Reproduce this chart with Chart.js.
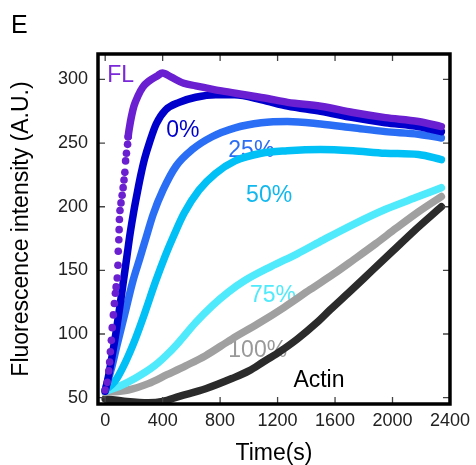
<!DOCTYPE html>
<html>
<head>
<meta charset="utf-8">
<script src="https://cdn.jsdelivr.net/npm/chart.js@4.4.1/dist/chart.umd.min.js"></script>
<style>
  html, body { margin: 0; padding: 0; background: #fff; }
</style>
</head>
<body>
<canvas id="MyChart" width="476" height="465"></canvas>
<script>
// values: time (s) / fluorescence (A.U.)
const fl_t = [0, 15, 25, 31, 36, 43, 49, 57, 64, 71, 76, 84, 89, 91, 95, 97, 99, 103, 110, 118, 125, 131, 137, 142, 148, 156, 160, 170, 183, 200, 228, 262, 308, 365, 398, 457, 547, 630, 810, 970, 1130, 1270, 1500, 1725, 1950, 2180, 2340]
const fl_y = [56, 62, 71, 78, 86, 95, 105, 115, 124, 132, 137, 144, 154, 165, 174, 182, 190, 197, 203, 209, 215, 221, 227, 236, 242, 249, 255, 263, 271, 279, 287, 294, 299, 303, 305, 302, 297, 295, 291, 288, 285, 282, 279, 274, 270, 267, 263]

const p0_t = [0, 25, 50, 75, 100, 125, 150, 175, 200, 225, 250, 275, 310, 355, 420, 515, 630, 770, 900, 1090, 1270, 1500, 1725, 1950, 2180, 2340]
const p0_y = [55, 68, 84, 101, 120, 140, 160, 180, 197, 212, 226, 238, 251, 265, 276, 282, 286, 288, 288, 284, 279, 275, 270, 266, 263, 259]

const p25_t = [0, 46, 80, 137, 194, 240, 288, 334, 402, 494, 607, 744, 904, 1086, 1268, 1500, 1725, 1950, 2180, 2340]
const p25_y = [56, 74, 90, 116, 142, 159, 177, 194, 213, 232, 245, 255, 262, 266, 267, 265, 262, 259, 257, 254]

const p50_t = [0, 69, 137, 206, 274, 350, 420, 480, 550, 653, 767, 904, 1086, 1268, 1500, 1725, 1950, 2180, 2340]
const p50_y = [56, 63, 77, 95, 116, 141, 162, 178, 195, 213, 226, 236, 242, 244, 245, 244, 242, 241, 237]

const p75_t = [0, 100, 206, 343, 450, 516, 630, 744, 858, 972, 1154, 1337, 1519, 1725, 1952, 2180, 2340]
const p75_y = [55, 59, 65, 75, 86, 94, 109, 122, 133, 142, 153, 163, 174, 186, 198, 208, 215]

const p100_t = [0, 160, 300, 430, 560, 699, 881, 1063, 1246, 1428, 1588, 1725, 1884, 2024, 2180, 2340]
const p100_y = [54, 56, 61, 68, 75, 83, 96, 108, 121, 135, 147, 158, 171, 183, 196, 208]

const actin_t = [0, 150, 300, 400, 516, 699, 881, 1000, 1100, 1200, 1337, 1474, 1566, 1700, 1850, 2000, 2150, 2340]
const actin_y = [49, 47, 46, 47, 51, 57, 65, 71, 78, 85, 96, 109, 119, 133, 149, 165, 181, 200]

const names = ['FL', '0%', '25%', '50%', '75%', '100%', 'Actin']
const colors = ['#6a1fd0', '#0000cc', '#2a6ef6', '#00c0f5', '#4feafb', '#a0a0a0', '#2b2b2b']
const textColors = ['#7a28d8', '#0000cc', '#2a6ef6', '#10b8ee', '#4feafb', '#999999', '#000000']
// where the curve names sit, in data units
const nameX = [14, 425, 857, 981, 1008, 857, 1310]
const nameY = [298, 255, 239, 204, 125, 82, 58]

const xTicks = [0, 400, 800, 1200, 1600, 2000, 2400]
const yTicks = [50, 100, 150, 200, 250, 300]

const font = '"Liberation Sans", Arial, sans-serif'

const pts = (t, v) => t.map((tt, i) => ({x: tt, y: v[i]}))
const series = [[fl_t, fl_y], [p0_t, p0_y], [p25_t, p25_y], [p50_t, p50_y], [p75_t, p75_y], [p100_t, p100_y], [actin_t, actin_y]]

const datasets = series.map((s, i) => {
    const ds = {
        label: names[i],
        data: pts(s[0], s[1]),
        borderColor: colors[i],
        backgroundColor: colors[i],
        borderWidth: 7.5,
        borderCapStyle: 'round',
        borderJoinStyle: 'round',
        cubicInterpolationMode: 'monotone',
        pointRadius: 0,
        pointBorderWidth: 0
    }
    if (i == 0) {
        // FL rise is recorded as separate dots
        ds.pointRadius = (c) => (c.parsed && c.parsed.x <= 160) ? 3.8 : 0
        ds.segment = { borderColor: (c) => c.p1.parsed.x <= 160 ? 'transparent' : undefined }
    }
    return ds
})

const figPlugin = {
    id: 'fig',
    beforeDatasetsDraw(chart) {
        const {ctx, scales: {x, y}} = chart
        ctx.save()
        ctx.font = '23px ' + font
        ctx.textAlign = 'left'
        ctx.textBaseline = 'alphabetic'
        names.forEach((n, i) => {
            ctx.fillStyle = textColors[i]
            ctx.fillText(n, x.getPixelForValue(nameX[i]), y.getPixelForValue(nameY[i]))
        })
        ctx.restore()
    },
    afterDraw(chart) {
        const {ctx, chartArea: a, scales: {x, y}} = chart
        ctx.save()
        ctx.strokeStyle = '#444'
        ctx.lineWidth = 1.3
        ctx.beginPath()
        x.ticks.forEach(t => {
            const px = x.getPixelForValue(t.value)
            if (px < a.left + 3 || px > a.right - 3) return
            ctx.moveTo(px, a.bottom); ctx.lineTo(px, a.bottom - 7)
            ctx.moveTo(px, a.top); ctx.lineTo(px, a.top + 7)
        })
        y.ticks.forEach(t => {
            const py = y.getPixelForValue(t.value)
            ctx.moveTo(a.left, py); ctx.lineTo(a.left + 7, py)
            ctx.moveTo(a.right, py); ctx.lineTo(a.right - 7, py)
        })
        ctx.stroke()
        ctx.strokeStyle = '#000'
        ctx.lineWidth = 3.5
        ctx.strokeRect(a.left, a.top, a.right - a.left, a.bottom - a.top)
        ctx.fillStyle = '#000'
        ctx.font = '25px ' + font
        ctx.fillText('E', 11, 33)
        ctx.restore()
    }
}

let ctx = document.getElementById('MyChart')
new Chart(ctx, {
    type: 'line',
    data: { datasets: datasets },
    options: {
        responsive: false,
        animation: false,
        layout: { padding: { top: 54, right: 21, left: 0, bottom: 0 } },
        plugins: { legend: { display: false }, tooltip: { enabled: false } },
        scales: {
            x: {
                type: 'linear',
                min: -50,
                max: 2400,
                bounds: 'data',
                afterBuildTicks: (s) => { s.ticks = xTicks.map(v => ({value: v})) },
                ticks: { padding: 6, color: '#222', font: { size: 18, family: font }, maxRotation: 0, autoSkip: false, callback: (v) => String(v) },
                grid: { display: false, drawTicks: false },
                border: { display: false },
                title: { display: true, text: 'Time(s)', color: '#000', font: { size: 23, family: font, lineHeight: 1 }, padding: { top: 0, bottom: 0 } },
                afterFit: (s) => { s.height = 61 }
            },
            y: {
                type: 'linear',
                min: 45,
                max: 320,
                bounds: 'data',
                afterBuildTicks: (s) => { s.ticks = yTicks.map(v => ({value: v})) },
                ticks: { padding: 10, color: '#222', font: { size: 18, family: font }, callback: (v) => String(v) },
                grid: { display: false, drawTicks: false },
                border: { display: false },
                title: { display: true, text: 'Fluorescence intensity (A.U.)', color: '#000', font: { size: 23, family: font, lineHeight: 1 }, padding: { top: 10, bottom: 0 } },
                afterFit: (s) => { s.width = 98 }
            }
        }
    },
    plugins: [figPlugin]
})
</script>
</body>
</html>
